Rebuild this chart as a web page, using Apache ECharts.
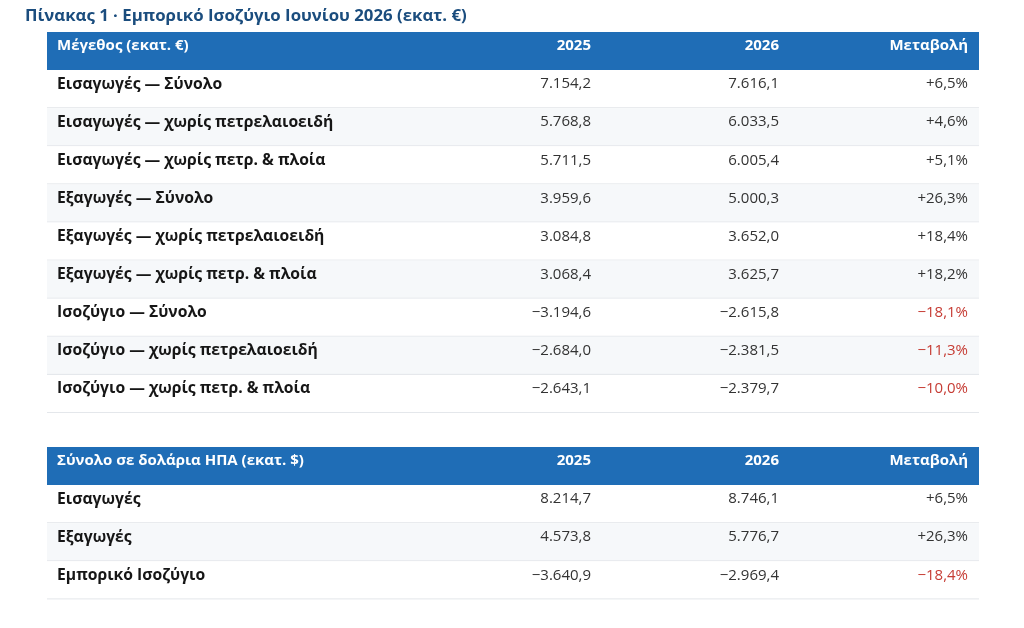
<!DOCTYPE html>
<html><head><meta charset="utf-8">
<script src="https://cdn.jsdelivr.net/npm/echarts@6/dist/echarts.min.js"></script>
<style>html,body{margin:0;padding:0;background:#fff}#c{width:1024px;height:628px}</style>
</head><body><div id="c"></div>
<script>
const titleText = 'Πίνακας 1 · Εμπορικό Ισοζύγιο Ιουνίου 2026 (εκατ. €)';
const headers1 = ['Μέγεθος (εκατ. €)', '2025', '2026', 'Μεταβολή'];
const labels1 = ['Εισαγωγές — Σύνολο', 'Εισαγωγές — χωρίς πετρελαιοειδή', 'Εισαγωγές — χωρίς πετρ. & πλοία',
  'Εξαγωγές — Σύνολο', 'Εξαγωγές — χωρίς πετρελαιοειδή', 'Εξαγωγές — χωρίς πετρ. & πλοία',
  'Ισοζύγιο — Σύνολο', 'Ισοζύγιο — χωρίς πετρελαιοειδή', 'Ισοζύγιο — χωρίς πετρ. & πλοία'];
const y2025_1 = [7154.2, 5768.8, 5711.5, 3959.6, 3084.8, 3068.4, -3194.6, -2684.0, -2643.1];
const y2026_1 = [7616.1, 6033.5, 6005.4, 5000.3, 3652.0, 3625.7, -2615.8, -2381.5, -2379.7];
const change1 = [6.5, 4.6, 5.1, 26.3, 18.4, 18.2, -18.1, -11.3, -10.0];

const headers2 = ['Σύνολο σε δολάρια ΗΠΑ (εκατ. $)', '2025', '2026', 'Μεταβολή'];
const labels2 = ['Εισαγωγές', 'Εξαγωγές', 'Εμπορικό Ισοζύγιο'];
const y2025_2 = [8214.7, 4573.8, -3640.9];
const y2026_2 = [8746.1, 5776.7, -2969.4];
const change2 = [6.5, 26.3, -18.4];

const FONT = "'Open Sans', 'Noto Sans', sans-serif";
function fmtNum(v) {
  const neg = v < 0;
  const parts = Math.abs(v).toFixed(1).split('.');
  const intp = parts[0].replace(/\B(?=(\d{3})+(?!\d))/g, '.');
  return (neg ? '\u2212' : '') + intp + ',' + parts[1];
}
function fmtPct(v) {
  return (v < 0 ? '\u2212' : '+') + Math.abs(v).toFixed(1).replace('.', ',') + '%';
}

function makeRows(headers, labels, a, b, c) {
  const rows = [{ value: [0.5, 0], cells: headers, header: true }];
  labels.forEach((l, i) => rows.push({ value: [0.5, i + 1], cells: [l, fmtNum(a[i]), fmtNum(b[i]), fmtPct(c[i])], neg: c[i] < 0, idx: i }));
  return rows;
}
const colRight = [0, 0.5837, 0.7854, 0.9882];

function renderTable(rows) {
  return function (params, api) {
    const r = rows[params.dataIndex];
    const cs = params.coordSys;
    const yc = api.coord([0, api.value(1)])[1];
    const h = api.size([0, 1])[1];
    const top = yc - h / 2;
    const children = [];
    let bg = '#ffffff';
    if (r.header) bg = '#1f6db6';
    else if (r.idx % 2 === 1) bg = '#f6f8fa';
    children.push({ type: 'rect', shape: { x: cs.x, y: top, width: cs.width, height: h }, style: { fill: bg } });
    if (!r.header) {
      children.push({ type: 'line', shape: { x1: cs.x, y1: top + h - 0.5, x2: cs.x + cs.width, y2: top + h - 0.5 }, style: { stroke: '#e4e7eb', lineWidth: 1 } });
    }
    const ty = top + 14;
    r.cells.forEach((t, j) => {
      let fill = r.header ? '#ffffff' : (j === 0 ? '#161616' : '#333333');
      if (!r.header && j === 3 && r.neg) fill = '#c63c34';
      let font;
      if (r.header) font = 'bold 15px ' + FONT;
      else if (j === 0) font = 'bold 15.7px ' + FONT;
      else font = 'normal 15px ' + FONT;
      children.push({
        type: 'text',
        style: {
          text: t,
          x: j === 0 ? cs.x + 10 : cs.x + cs.width * colRight[j],
          y: ty,
          align: j === 0 ? 'left' : 'right',
          verticalAlign: 'middle',
          fill: fill,
          font: font
        }
      });
    });
    return { type: 'group', children: children };
  };
}

const rows1 = makeRows(headers1, labels1, y2025_1, y2026_1, change1);
const rows2 = makeRows(headers2, labels2, y2025_2, y2026_2, change2);
const cats1 = rows1.map((r, i) => i);
const cats2 = rows2.map((r, i) => i);

const chart = echarts.init(document.getElementById('c'), null, { renderer: 'canvas' });
chart.setOption({
  backgroundColor: '#ffffff',
  animation: false,
  title: { text: titleText, left: 20, top: 3, textStyle: { fontFamily: FONT, fontSize: 16.8, fontWeight: 'bold', color: '#1b4d7e' } },
  grid: [
    { left: 47, right: 45, top: 32, height: 381 },
    { left: 47, right: 45, top: 447, height: 152.4 }
  ],
  xAxis: [
    { type: 'value', min: 0, max: 1, gridIndex: 0, show: false },
    { type: 'value', min: 0, max: 1, gridIndex: 1, show: false }
  ],
  yAxis: [
    { type: 'category', data: cats1, inverse: true, gridIndex: 0, show: false },
    { type: 'category', data: cats2, inverse: true, gridIndex: 1, show: false }
  ],
  series: [
    { type: 'custom', xAxisIndex: 0, yAxisIndex: 0, data: rows1, renderItem: renderTable(rows1), silent: true },
    { type: 'custom', xAxisIndex: 1, yAxisIndex: 1, data: rows2, renderItem: renderTable(rows2), silent: true }
  ]
});
</script></body></html>
